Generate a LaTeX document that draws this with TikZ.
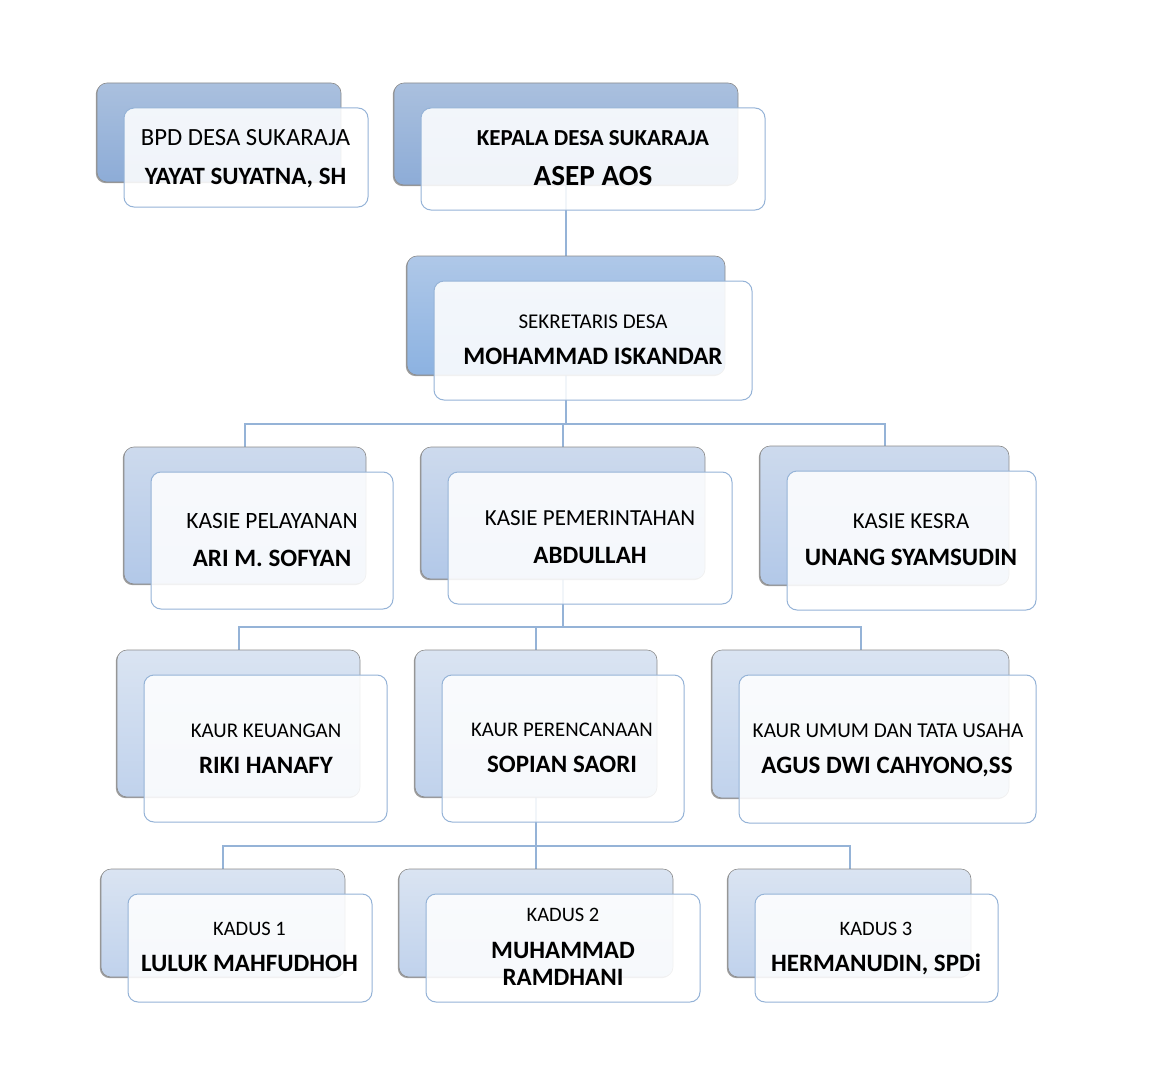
\documentclass[tikz,border=0pt]{standalone}
\usepackage{fontspec}
\setmainfont{Carlito}
\usetikzlibrary{shadows,calc}
\definecolor{lineblue}{HTML}{95B3D7}
\definecolor{bAtop}{HTML}{AAC0DE}
\definecolor{bAbot}{HTML}{8DACD7}
\definecolor{bSt}{HTML}{AFC8E8}
\definecolor{bSb}{HTML}{8CB2E1}
\definecolor{bBtop}{HTML}{CDDAED}
\definecolor{bBbot}{HTML}{B2C8E8}
\definecolor{bCtop}{HTML}{DAE4F2}
\definecolor{bCbot}{HTML}{C0D2EC}
\pgfdeclarelayer{bg}
\pgfsetlayers{bg,main}
\tikzset{
  backbox/.style={rectangle, rounded corners=10pt, draw=black!45, line width=0.6pt, inner sep=0pt,
    drop shadow={shadow xshift=-1.2pt, shadow yshift=-1.2pt, opacity=0.7, fill=black!55}},
  toneA/.style={top color=bAtop, bottom color=bAbot},
  toneS/.style={top color=bSt, bottom color=bSb},
  toneB/.style={top color=bBtop, bottom color=bBbot},
  toneC/.style={top color=bCtop, bottom color=bCbot},
  frontbox/.style={rectangle, rounded corners=10pt, draw=lineblue, line width=1pt, fill=white,
    fill opacity=0.87, inner sep=0pt},
  conn/.style={draw=lineblue, line width=2pt},
  lbl/.style={anchor=base, inner sep=0pt, text=black},
}
\newcommand\rfs[1]{\fontsize{#1}{#1}\selectfont}
\newcommand\bfs[1]{\fontsize{#1}{#1}\selectfont\bfseries}
% #1 name, #2 x, #3 y (back box top-left), #4 width, #5 height, #6 tone
\newcommand\orgbox[6]{%
  \node[backbox, #6, minimum width=#4pt, minimum height=#5pt] (#1-b) at (#2+#4/2, #3+#5/2) {};
  \node[frontbox, minimum width=#4pt, minimum height=#5pt] (#1) at (#2+27+#4/2, #3+25+#5/2) {};
}
\begin{document}
\begin{tikzpicture}[x=1pt, y=-1pt]
\useasboundingbox (0,0) rectangle (1157,1089);

% boxes
\orgbox{bpd}{97}{83}{244}{99}{toneA}
\orgbox{kep}{394}{83}{344}{102}{toneA}
\orgbox{sek}{407}{256}{318}{119}{toneS}
\orgbox{pel}{124}{447}{242}{137}{toneB}
\orgbox{pem}{421}{447}{284}{132}{toneB}
\orgbox{kes}{760}{446}{249}{139}{toneB}
\orgbox{keu}{117}{650}{243}{147}{toneC}
\orgbox{per}{415}{650}{242}{147}{toneC}
\orgbox{umu}{712}{650}{297}{148}{toneC}
\orgbox{kd1}{101}{869}{244}{108}{toneC}
\orgbox{kd2}{399}{869}{274}{108}{toneC}
\orgbox{kd3}{728}{869}{243}{108}{toneC}

% texts
\node[lbl, font=\rfs{24.7}] (bpd-t1) at (245.5,145.7) {BPD DESA SUKARAJA};
\node[lbl, font=\bfs{24.9}] (bpd-t2) at (245.5,184) {YAYAT SUYATNA, SH};
\node[lbl, font=\bfs{22.9}] (kep-t1) at (593,145.2) {KEPALA DESA SUKARAJA};
\node[lbl, font=\bfs{29.2}] (kep-t2) at (593,185.5) {ASEP AOS};
\node[lbl, font=\rfs{21}] (sek-t1) at (593,328.6) {SEKRETARIS DESA};
\node[lbl, font=\bfs{25.1}] (sek-t2) at (593,364) {MOHAMMAD ISKANDAR};
\node[lbl, font=\rfs{23.4}] (pel-t1) at (272,528.4) {KASIE PELAYANAN};
\node[lbl, font=\bfs{25}] (pel-t2) at (272,566) {ARI M. SOFYAN};
\node[lbl, font=\rfs{23}] (pem-t1) at (590,525.4) {KASIE PEMERINTAHAN};
\node[lbl, font=\bfs{25}] (pem-t2) at (590,563) {ABDULLAH};
\node[lbl, font=\rfs{22.8}] (kes-t1) at (911,528.3) {KASIE KESRA};
\node[lbl, font=\bfs{25}] (kes-t2) at (911,565) {UNANG SYAMSUDIN};
\node[lbl, font=\rfs{20.9}] (keu-t1) at (266,737.6) {KAUR KEUANGAN};
\node[lbl, font=\bfs{25}] (keu-t2) at (266,773) {RIKI HANAFY};
\node[lbl, font=\rfs{20.8}] (per-t1) at (562,736.6) {KAUR PERENCANAAN};
\node[lbl, font=\bfs{25}] (per-t2) at (562,772) {SOPIAN SAORI};
\node[lbl, font=\rfs{21.2}] (umu-t1) at (888,737.7) {KAUR UMUM DAN TATA USAHA};
\node[lbl, font=\bfs{25}] (umu-t2) at (887,773) {AGUS DWI CAHYONO,SS};
\node[lbl, font=\rfs{20.5}] (kd1-t1) at (249.5,935.5) {KADUS 1};
\node[lbl, font=\bfs{25}] (kd1-t2) at (249.5,971) {LULUK MAHFUDHOH};
\node[lbl, font=\rfs{20.5}] (kd2-t1) at (563,921.5) {KADUS 2};
\node[lbl, font=\bfs{25}] (kd2-t2) at (563,958) {MUHAMMAD};
\node[lbl, font=\bfs{25}] (kd2-t3) at (563,985) {RAMDHANI};
\node[lbl, font=\rfs{20.5}] (kd3-t1) at (876,935.5) {KADUS 3};
\node[lbl, font=\bfs{25}] (kd3-t2) at (876,971) {HERMANUDIN, SPDi};

% connectors
\coordinate (bus1) at (566,424);
\coordinate (bus2) at (563,627);
\coordinate (bus3) at (536,846);
\begin{pgfonlayer}{bg}
\draw[conn] (kep-b.south) -- (sek-b.north);
\draw[conn] (sek-b.south) -- (bus1);
\draw[conn] (pel-b.north) |- (bus1) -| (kes-b.north);
\draw[conn] (pem-b.north) -- (pem-b.north |- bus1);
\draw[conn] (pem-b.south) -- (bus2);
\draw[conn] (keu-b.north) |- (bus2) -| (umu-b.north);
\draw[conn] (per-b.north) -- (per-b.north |- bus2);
\draw[conn] (per-b.south) -- (bus3);
\draw[conn] (kd1-b.north) |- (bus3) -| (kd3-b.north);
\draw[conn] (kd2-b.north) -- (kd2-b.north |- bus3);
\end{pgfonlayer}
\end{tikzpicture}
\end{document}
